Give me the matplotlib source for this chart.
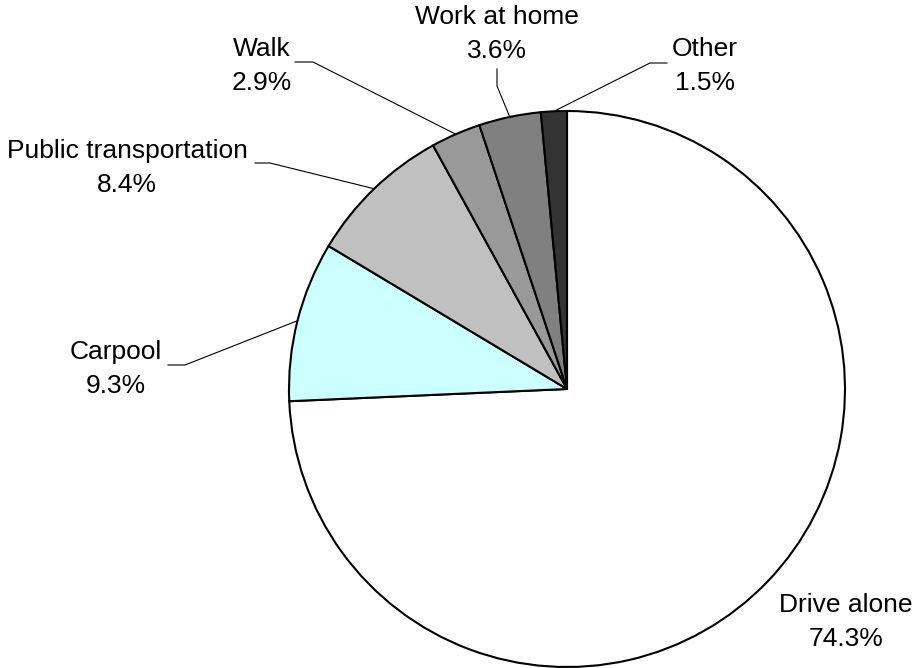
import numpy as np
import matplotlib
matplotlib.use('Agg')
import matplotlib.pyplot as plt

# data
modes = ['Drive alone', 'Carpool', 'Public transportation', 'Walk', 'Work at home', 'Other']
shares = [74.3, 9.3, 8.4, 2.9, 3.6, 1.5]
slice_colors = ['#FFFFFF', '#CCFFFF', '#C0C0C0', '#999999', '#808080', '#333333']

W, H = 917, 668
plt.rcParams['font.family'] = ['Liberation Sans', 'DejaVu Sans']

fig = plt.figure(figsize=(W / 100, H / 100), dpi=100)
ax = fig.add_axes([0, 0, 1, 1])

def px(x, y):
    # pixel position (top-left origin) -> data coords
    return x, H - y

cx, cy = px(567, 389)
R = 278
wedges, _ = ax.pie(shares, colors=slice_colors, startangle=90, counterclock=False,
                   center=(cx, cy), radius=R,
                   wedgeprops=dict(edgecolor='black', linewidth=1.5))

# label placement (pixel layout) and leader elbows
label_pos = [(846, 622), (116, 369), (127, 168), (262, 66), (497, 34), (705, 66)]
elbows = [None,
          [(168, 365), (185, 365)],
          [(255, 163), (270, 163)],
          [(295, 62), (313, 62)],
          [(497, 69), (497, 86)],
          [(667, 63), (650, 63)]]

for w, name, val, pos, elb in zip(wedges, modes, shares, label_pos, elbows):
    tx, ty = px(*pos)
    ax.text(tx, ty, f'{name}\n{val:.1f}%', ha='center', va='center',
            fontsize=19, linespacing=1.55, multialignment='center')
    if elb is None:
        continue
    mid = np.deg2rad((w.theta1 + w.theta2) / 2)
    ex, ey = cx + R * np.cos(mid), cy + R * np.sin(mid)
    xs = [px(*p)[0] for p in elb] + [ex]
    ys = [px(*p)[1] for p in elb] + [ey]
    ax.plot(xs, ys, color='black', lw=0.8)

ax.set_xlim(0, W)
ax.set_ylim(0, H)
ax.set_aspect('equal')
ax.axis('off')

fig.savefig('out.png', dpi=100, facecolor='white')
